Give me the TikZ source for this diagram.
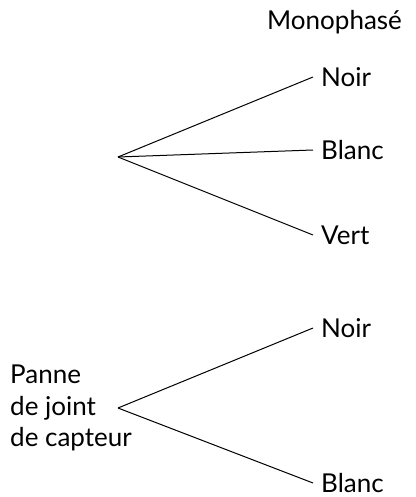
\documentclass[tikz,border=0pt]{standalone}
\usepackage{fontspec}
\setmainfont{Lato}
\usetikzlibrary{positioning}
\tikzset{
  % Label at the end of a branch.
  leaf/.style={
    anchor=west, inner xsep=8pt, inner ysep=0pt,
    font=\fontsize{26}{30}\selectfont,
    text=black,
  },
  % Group heading and root label.
  heading/.style={
    inner sep=0pt,
    font=\fontsize{26}{30}\selectfont,
    text=black,
  },
  root/.style={
    anchor=west, inner sep=0pt, align=left,
    font=\fontsize{26}{31.5}\selectfont,
    text=black,
  },
  % Branch lines.
  branch/.style={draw=black, line width=1pt},
}

\begin{document}
\begin{tikzpicture}[x=1pt, y=-1pt]
  \useasboundingbox (0,0) rectangle (415,497);

  % Upper tree (three wires).
  \node[heading, anchor=base west] (mono) at (267, 30) {Monophasé};
  \coordinate (apexA) at (118, 157);
  \node[leaf] (noirA)  at (313, 77)  {Noir};
  \node[leaf] (blancA) at (313, 150) {Blanc};
  \node[leaf] (vertA)  at (313, 235) {Vert};

  \draw[branch] (apexA) -- (noirA.west);
  \draw[branch] (apexA) -- (blancA.west);
  \draw[branch] (apexA) -- (vertA.west);

  % Lower tree (two wires).
  \node[root] (panne) at (10, 408) {Panne\\de joint\\de capteur};
  \coordinate (apexB) at (118, 408);
  \node[leaf] (noirB)  at (313, 328) {Noir};
  \node[leaf] (blancB) at (313, 483) {Blanc};

  \draw[branch] (apexB) -- (noirB.west);
  \draw[branch] (apexB) -- (blancB.west);

\end{tikzpicture}
\end{document}
